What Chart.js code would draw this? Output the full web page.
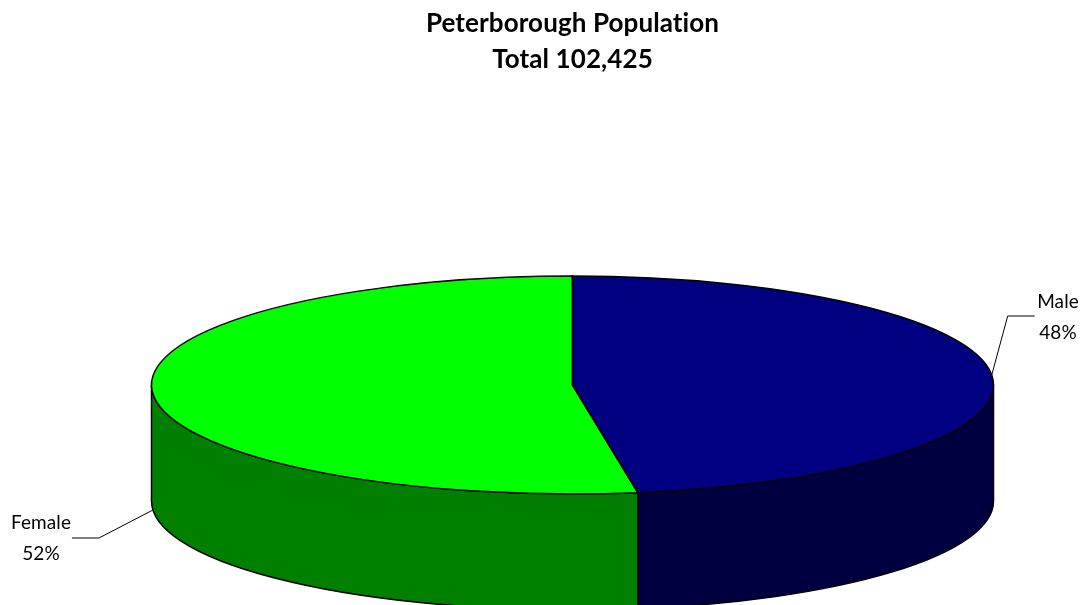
<!DOCTYPE html>
<html>
<head>
<meta charset="utf-8">
<style>
html,body{margin:0;padding:0;background:#fff;overflow:hidden}
#wrap{position:absolute;left:0;top:0;width:1081px;height:605px}
</style>
<script src="https://cdn.jsdelivr.net/npm/chart.js@4"></script>
</head>
<body>
<div id="wrap"><canvas id="c"></canvas></div>
<script>
const titleLines = ['Peterborough Population', 'Total 102,425'];
const categories = ['Male', 'Female'];
const population = [48670, 53755];
const topColours = ['#000080', '#00FF00'];
const sideColours = ['#000040', '#007F00'];

const RX = 421, RY = 109, DEPTH = 116;
const FONT = 'Lato, "Open Sans", sans-serif';
const callouts = [
  {angle: -0.092, onBase: false, elbow: [16, -59], end: [27, 0], text: [1058, 302], pct: [1058, 333]},
  {angle: 3.059,  onBase: true,  elbow: [-54, 28], end: [-27, 0], text: [41, 523], pct: [41, 554]}
];

const pie3d = {
  id: 'pie3d',
  beforeDraw(chart) {
    chart.ctx.letterSpacing = '0.1px';
  },
  beforeDatasetsDraw(chart) {
    const ctx = chart.ctx;
    const arcs = chart.getDatasetMeta(0).data;
    const a0 = arcs[0];
    const sx = RX / a0.outerRadius, sy = RY / a0.outerRadius;
    const cx = a0.x, cy = a0.y;
    chart.$pie = {sx, sy, cx, cy};
    // side wall: the part of every slice that faces the viewer
    arcs.forEach((arc, i) => {
      const s = Math.max(arc.startAngle, 0), e = Math.min(arc.endAngle, Math.PI);
      if (e <= s) return;
      ctx.beginPath();
      ctx.ellipse(cx, cy, RX, RY, 0, s, e, false);
      ctx.ellipse(cx, cy + DEPTH, RX, RY, 0, e, s, true);
      ctx.closePath();
      ctx.fillStyle = sideColours[i];
      ctx.fill();
      ctx.strokeStyle = '#000';
      ctx.lineWidth = 1.5;
      ctx.stroke();
    });
    // top face: the library's own arcs, drawn through a foreshortening transform
    ctx.save();
    ctx.translate(cx, cy);
    ctx.scale(sx, sy);
    ctx.translate(-cx, -cy);
  },
  afterDatasetsDraw(chart) {
    const ctx = chart.ctx;
    ctx.restore();
    const {cx, cy} = chart.$pie;
    const arcs = chart.getDatasetMeta(0).data;
    ctx.strokeStyle = '#000';
    ctx.lineWidth = 1.5;
    arcs.forEach(arc => {
      ctx.beginPath();
      ctx.moveTo(cx, cy);
      ctx.ellipse(cx, cy, RX, RY, 0, arc.startAngle, arc.endAngle, false);
      ctx.closePath();
      ctx.stroke();
    });
    // callouts
    const total = population.reduce((a, b) => a + b, 0);
    callouts.forEach((c, i) => {
      const ax = cx + RX * Math.cos(c.angle);
      const ay = cy + (c.onBase ? DEPTH : 0) + RY * Math.sin(c.angle);
      const ex = ax + c.elbow[0], ey = ay + c.elbow[1];
      ctx.beginPath();
      ctx.moveTo(ax, ay);
      ctx.lineTo(ex, ey);
      ctx.lineTo(ex + c.end[0], ey + c.end[1]);
      ctx.lineWidth = 1;
      ctx.strokeStyle = '#000';
      ctx.stroke();
      ctx.fillStyle = '#000';
      ctx.font = '19px ' + FONT;
      ctx.textAlign = 'center';
      ctx.textBaseline = 'middle';
      ctx.fillText(categories[i], c.text[0], c.text[1]);
      ctx.fillText(Math.round(population[i] / total * 100) + '%', c.pct[0], c.pct[1]);
    });
  }
};

new Chart(document.getElementById('c'), {
  type: 'pie',
  data: {
    labels: categories,
    datasets: [{
      data: population,
      backgroundColor: topColours,
      borderWidth: 0,
      clip: false
    }]
  },
  options: {
    responsive: true,
    maintainAspectRatio: false,
    animation: false,
    layout: {padding: {left: 64, right: 0, top: 0, bottom: 0}},
    plugins: {
      legend: {display: false},
      tooltip: {enabled: false},
      title: {
        display: true,
        text: titleLines,
        fullSize: false,
        color: '#000',
        font: {family: FONT, size: 26, weight: 'bold', lineHeight: 1.385},
        padding: {top: 6, bottom: 87}
      }
    }
  },
  plugins: [pie3d]
});
</script>
</body>
</html>
